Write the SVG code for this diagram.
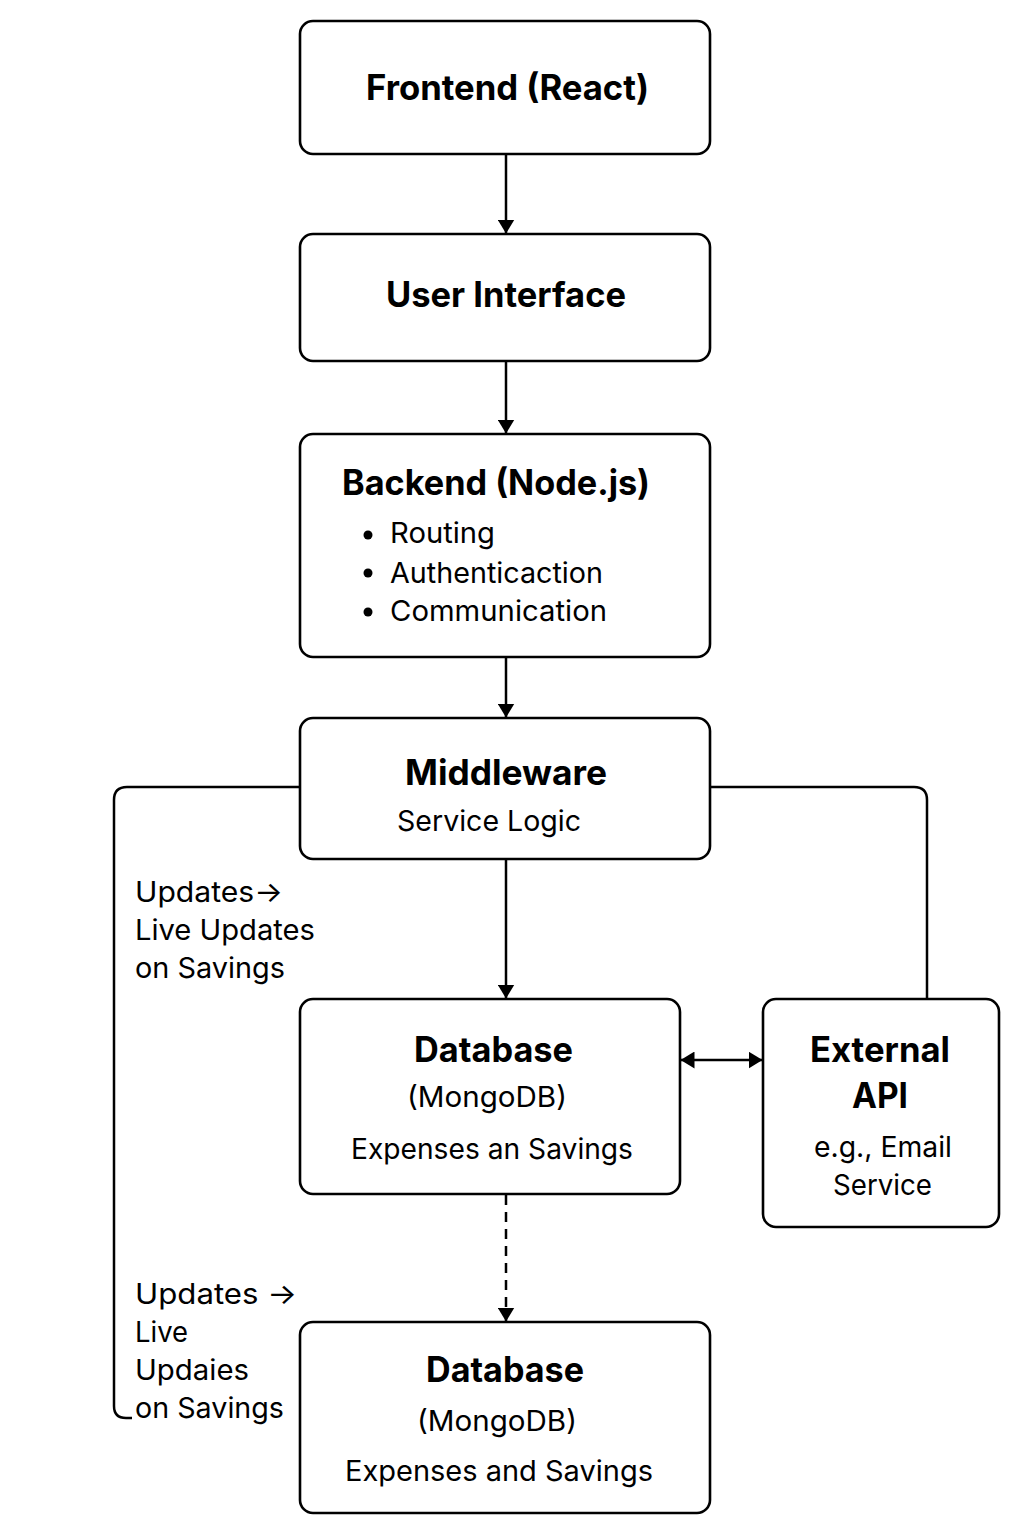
<svg xmlns="http://www.w3.org/2000/svg" width="1024" height="1536" viewBox="0 0 1024 1536">
<defs>
<style>
.box{fill:#fff;stroke:#000;stroke-width:2.6}
.t{font-family:Inter,"Liberation Sans",sans-serif;fill:#000}
.b{font-weight:700;font-size:35px}
.r{font-weight:400;font-size:28.5px}
.c{fill:none;stroke:#000;stroke-width:2.5}
</style>
<marker id="ah" viewBox="0 0 14 17" refX="13.5" refY="8.5" markerWidth="14" markerHeight="17" markerUnits="userSpaceOnUse" orient="auto-start-reverse">
<path d="M0,0 L14,8.5 L0,17 Z" fill="#000"/>
</marker>
</defs>
<rect width="1024" height="1536" fill="#fff"/>
<g id="connectors">
<line class="c" x1="506" y1="155" x2="506" y2="233" marker-end="url(#ah)"/>
<line class="c" x1="506" y1="362" x2="506" y2="433" marker-end="url(#ah)"/>
<line class="c" x1="506" y1="658" x2="506" y2="717" marker-end="url(#ah)"/>
<line class="c" x1="506" y1="860" x2="506" y2="998" marker-end="url(#ah)"/>
<line class="c" x1="681" y1="1060" x2="762" y2="1060" marker-start="url(#ah)" marker-end="url(#ah)"/>
<line class="c" x1="506" y1="1195" x2="506" y2="1321" stroke-width="3" stroke-dasharray="10 7" marker-end="url(#ah)"/>
<path class="c" d="M300 787 H127 Q114 787 114 800 V1406 Q114 1418 126 1418 H132"/>
<path class="c" d="M710 787 H914 Q927 787 927 800 V999"/>
</g>
<g id="frontend">
<rect class="box" x="300" y="21" width="410" height="133" rx="13"/>
<text class="t b" x="366" y="100" textLength="283" lengthAdjust="spacingAndGlyphs">Frontend (React)</text>
</g>
<g id="user-interface">
<rect class="box" x="300" y="234" width="410" height="127" rx="13"/>
<text class="t b" x="386" y="307" textLength="240" lengthAdjust="spacingAndGlyphs">User Interface</text>
</g>
<g id="backend">
<rect class="box" x="300" y="434" width="410" height="223" rx="13"/>
<text class="t b" x="342" y="495" textLength="308" lengthAdjust="spacingAndGlyphs">Backend (Node.js)</text>
<circle cx="368" cy="535" r="4.5"/>
<circle cx="368" cy="573" r="4.5"/>
<circle cx="368" cy="612" r="4.5"/>
<text class="t r" x="390" y="543" textLength="105" lengthAdjust="spacingAndGlyphs">Routing</text>
<text class="t r" x="390" y="583" textLength="213" lengthAdjust="spacingAndGlyphs">Authenticaction</text>
<text class="t r" x="390" y="621" textLength="217" lengthAdjust="spacingAndGlyphs">Communication</text>
</g>
<g id="middleware">
<rect class="box" x="300" y="718" width="410" height="141" rx="13"/>
<text class="t b" x="405" y="785" textLength="202" lengthAdjust="spacingAndGlyphs">Middleware</text>
<text class="t r" x="397" y="831" textLength="184" lengthAdjust="spacingAndGlyphs">Service Logic</text>
</g>
<g id="database-1">
<rect class="box" x="300" y="999" width="380" height="195" rx="13"/>
<text class="t b" x="414" y="1062" textLength="159" lengthAdjust="spacingAndGlyphs">Database</text>
<text class="t r" x="407" y="1107" textLength="160" lengthAdjust="spacingAndGlyphs">(MongoDB)</text>
<text class="t r" x="351" y="1159" textLength="282" lengthAdjust="spacingAndGlyphs">Expenses an Savings</text>
</g>
<g id="external-api">
<rect class="box" x="763" y="999" width="236" height="228" rx="13"/>
<text class="t b" x="810" y="1062" textLength="140" lengthAdjust="spacingAndGlyphs">External</text>
<text class="t b" x="852" y="1108" textLength="56" lengthAdjust="spacingAndGlyphs">API</text>
<text class="t r" x="814" y="1157" textLength="138" lengthAdjust="spacingAndGlyphs">e.g., Email</text>
<text class="t r" x="833" y="1195" textLength="99" lengthAdjust="spacingAndGlyphs">Service</text>
</g>
<g id="database-2">
<rect class="box" x="300" y="1322" width="410" height="191" rx="13"/>
<text class="t b" x="426" y="1382" textLength="158" lengthAdjust="spacingAndGlyphs">Database</text>
<text class="t r" x="417" y="1431" textLength="160" lengthAdjust="spacingAndGlyphs">(MongoDB)</text>
<text class="t r" x="345" y="1481" textLength="308" lengthAdjust="spacingAndGlyphs">Expenses and Savings</text>
</g>
<g id="label-upper">
<text class="t r" x="135" y="902" textLength="148" lengthAdjust="spacingAndGlyphs">Updates→</text>
<text class="t r" x="135" y="940" textLength="180" lengthAdjust="spacingAndGlyphs">Live Updates</text>
<text class="t r" x="135" y="978" textLength="150" lengthAdjust="spacingAndGlyphs">on Savings</text>
</g>
<g id="label-lower">
<text class="t r" x="135" y="1304" textLength="162" lengthAdjust="spacingAndGlyphs">Updates →</text>
<text class="t r" x="135" y="1342" textLength="53" lengthAdjust="spacingAndGlyphs">Live</text>
<text class="t r" x="135" y="1380" textLength="114" lengthAdjust="spacingAndGlyphs">Updaies</text>
<text class="t r" x="135" y="1418" textLength="149" lengthAdjust="spacingAndGlyphs">on Savings</text>
</g>
</svg>
